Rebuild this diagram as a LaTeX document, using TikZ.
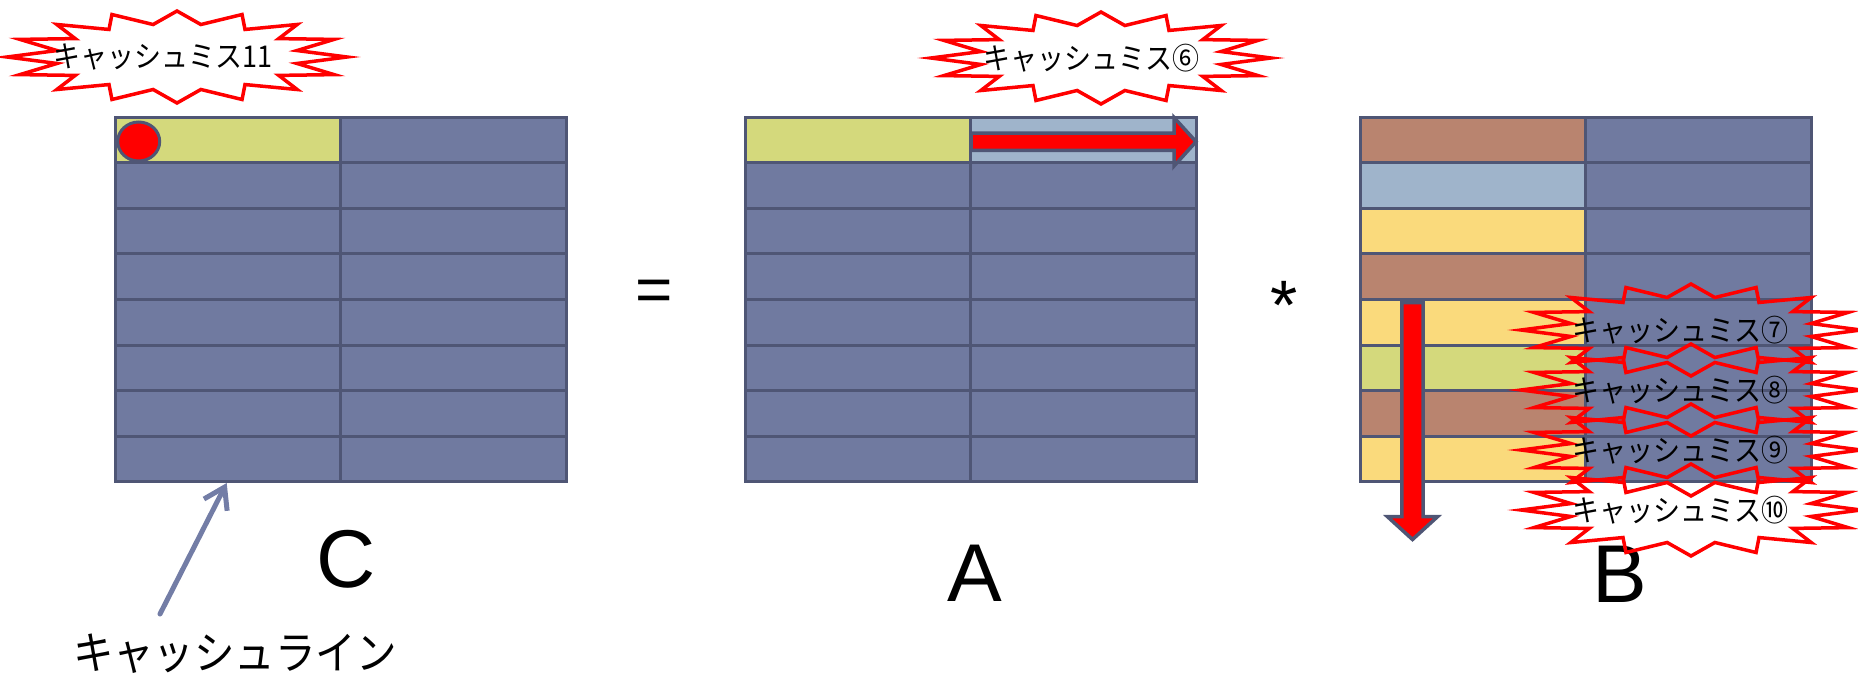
\documentclass[tikz,border=0pt]{standalone}
\usepackage{fontspec}
\newfontfamily\jp[FakeStretch=0.9]{Noto Sans CJK JP}
\newfontfamily\lat{Liberation Sans}
\usetikzlibrary{arrows.meta,shapes.geometric}
\definecolor{slate}{HTML}{707AA0}
\definecolor{border}{HTML}{4F5675}
\definecolor{olive}{HTML}{D4D97C}
\definecolor{lblue}{HTML}{9FB4CB}
\definecolor{brownc}{HTML}{B9846F}
\definecolor{yellowc}{HTML}{FADA7C}
\definecolor{pointer}{HTML}{737DA6}
\newcommand{\mkburst}[5]{%
  \draw[burstline] ({#2+170},#3)
    \foreach \k in {0,...,15}{
      -- ({#2+0.72*170*cos(\k*22.5+11.25)},{#3+0.72*46*sin(\k*22.5+11.25)})
      -- ({#2+170*cos((\k+1)*22.5)},{#3+46*sin((\k+1)*22.5)})
    } -- cycle;
  \node[bursttext] (#1) at ({#2+#5},#3) {#4};}
\begin{document}
\begin{tikzpicture}[x=1pt,y=-1pt,
  cell/.style={draw=border, line width=3pt, minimum width=225.5pt,
    minimum height=45.6pt, inner sep=0pt, outer sep=0pt},
  burstline/.style={draw=red, line width=3.5pt},
  bursttext/.style={inner sep=0pt, font=\jp\fontsize{30}{32}\selectfont},
  redarrow/.style={fill=red, draw=border, line width=3.5pt, line join=miter},
  biglabel/.style={inner sep=0pt, font=\lat\fontsize{82}{90}\selectfont}]
\useasboundingbox (0,0) rectangle (1858,678);
% matrix C
\foreach \r/\fa in {1/olive,2/slate,3/slate,4/slate,5/slate,6/slate,7/slate,8/slate}{
  \node[cell, fill=\fa] (C-\r-1) at ({115+0.5*225.5},{117+(\r-0.5)*45.6}) {};
  \node[cell, fill=slate] (C-\r-2) at ({115+1.5*225.5},{117+(\r-0.5)*45.6}) {};
}
% matrix A
\foreach \r/\fa/\fb in {1/olive/lblue,2/slate/slate,3/slate/slate,4/slate/slate,5/slate/slate,6/slate/slate,7/slate/slate,8/slate/slate}{
  \node[cell, fill=\fa] (A-\r-1) at ({745+0.5*225.5},{117+(\r-0.5)*45.6}) {};
  \node[cell, fill=\fb] (A-\r-2) at ({745+1.5*225.5},{117+(\r-0.5)*45.6}) {};
}
% matrix B
\foreach \r/\fa in {1/brownc,2/lblue,3/yellowc,4/brownc,5/yellowc,6/olive,7/brownc,8/yellowc}{
  \node[cell, fill=\fa] (B-\r-1) at ({1360+0.5*225.5},{117+(\r-0.5)*45.6}) {};
  \node[cell, fill=slate] (B-\r-2) at ({1360+1.5*225.5},{117+(\r-0.5)*45.6}) {};
}
% red dot in C
\node[ellipse, draw=border, line width=3pt, fill=red, minimum width=42pt,
  minimum height=39pt, inner sep=0pt] (dot) at (138.7,141.5) {};
% red arrow in A
\draw[redarrow] (971,133) -- (1174,133) -- (1174,117.5) -- (1196,141.7)
  -- (1174,166) -- (1174,150.4) -- (971,150.4) -- cycle;
% red arrow in B
\draw[redarrow] (1401.8,302.5) -- (1423.2,302.5) -- (1423.2,516.7) -- (1437.5,516.7)
  -- (1412.5,539.5) -- (1387.5,516.7) -- (1401.8,516.7) -- cycle;
% operators
\node[inner sep=0pt, font=\lat\fontsize{64}{70}\selectfont] (eq) at (654,296) {=};
\node[inner sep=0pt, font=\lat\fontsize{70}{76}\selectfont] (mul) at (1284,305) {*};
% labels
\node[biglabel] (labC) at (346.5,559) {C};
\node[biglabel] (labA) at (975,573) {A};
\node[biglabel] (labB) at (1620,574) {B};
\node[inner sep=0pt, font=\jp\fontsize{45}{48}\selectfont] (cline) at (235,654) {キャッシュライン};
% pointer
\coordinate (ptail) at (160,614);
\coordinate (ptip) at (226.7,483);
\draw[pointer, line width=5pt, line cap=round, line join=round,
  -{Straight Barb[length=20pt,width=26pt,line width=5pt]}] (ptail) -- (ptip);
% bursts
\mkburst{miss11}{177}{57}{キャッシュミス11}{-14}
\mkburst{miss6}{1101}{58}{キャッシュミス⑥}{-10}
\mkburst{miss7}{1691}{330}{キャッシュミス⑦}{-11}
\mkburst{miss8}{1691}{390}{キャッシュミス⑧}{-11}
\mkburst{miss9}{1691}{450}{キャッシュミス⑨}{-11}
\mkburst{miss10}{1691}{510}{キャッシュミス⑩}{-11}
\end{tikzpicture}
\end{document}
